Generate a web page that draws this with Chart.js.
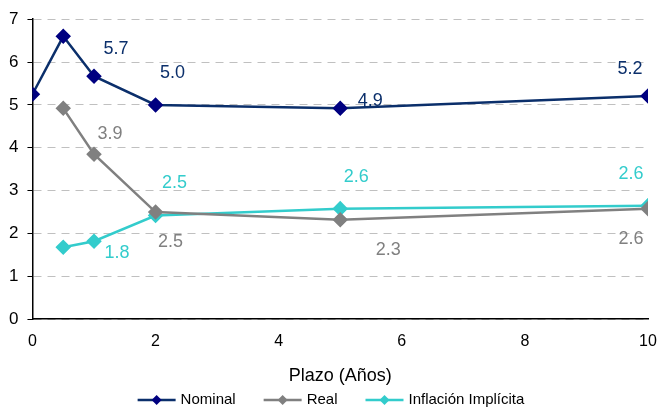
<!DOCTYPE html>
<html>
<head>
<meta charset="utf-8">
<script src="https://cdn.jsdelivr.net/npm/chart.js@4/dist/chart.umd.min.js"></script>
<style>
  html, body { margin: 0; padding: 0; background: #fff; }
  #wrap { width: 660px; height: 412px; }
</style>
</head>
<body>
<div id="wrap"><canvas id="myChart"></canvas></div>
<script>
// datos ===================================
var plazos = [0, 0.5, 1, 2, 5, 10];
var nominal = [5.25, 6.6, 5.67, 5.0, 4.92, 5.21];
var real = [null, 4.92, 3.85, 2.5, 2.32, 2.58];
var inflacion = [null, 1.68, 1.82, 2.42, 2.58, 2.65];

// etiquetas de valores (null = sin etiqueta)
var etqNominal = [null, null, '5.7', '5.0', '4.9', '5.2'];
var etqReal = [null, null, '3.9', '2.5', '2.3', '2.6'];
var etqInflacion = [null, null, '1.8', '2.5', '2.6', '2.6'];

var xTicks = [0, 2, 4, 6, 8, 10];
var yTicks = [0, 1, 2, 3, 4, 5, 6, 7];

// offsets de las etiquetas (px)
var offNominal = [null, null, [22, -27], [17, -32], [30, -7], [-18, -27]];
var offReal = [null, null, [16, -20], [15, 30], [48, 30], [-17, 30]];
var offInflacion = [null, null, [23, 12], [19, -32], [16, -32], [-17, -32]];

var FONT = '"Liberation Sans", Arial, sans-serif';

function toPoints(vals) {
  var pts = [];
  for (var i = 0; i < plazos.length; i++) {
    if (vals[i] !== null) pts.push({ x: plazos[i], y: vals[i] });
  }
  return pts;
}

var series = [
  { label: 'Nominal', vals: nominal, etq: etqNominal, off: offNominal, line: '#0b2f6b', mark: '#000080', txt: '#0b2f6b' },
  { label: 'Real', vals: real, etq: etqReal, off: offReal, line: '#808080', mark: '#808080', txt: '#808080' },
  { label: 'Inflación Implícita', vals: inflacion, etq: etqInflacion, off: offInflacion, line: '#33cccc', mark: '#33cccc', txt: '#33cccc' }
];

var datasets = series.map(function (s) {
  return {
    label: s.label,
    data: toPoints(s.vals),
    borderColor: s.line,
    backgroundColor: s.mark,
    pointBackgroundColor: s.mark,
    pointBorderColor: s.mark,
    pointStyle: 'rectRot',
    pointRadius: 6,
    borderWidth: 2.5,
    tension: 0
  };
});

// etiquetas de datos
var valueLabels = {
  id: 'valueLabels',
  afterDatasetsDraw: function (chart) {
    var ctx = chart.ctx;
    var xs = chart.scales.x, ys = chart.scales.y;
    ctx.save();
    ctx.font = '18px ' + FONT;
    ctx.textAlign = 'center';
    ctx.textBaseline = 'middle';
    series.forEach(function (s) {
      for (var i = 0; i < plazos.length; i++) {
        if (!s.etq[i]) continue;
        var px = xs.getPixelForValue(plazos[i]);
        var py = ys.getPixelForValue(s.vals[i]);
        ctx.fillStyle = s.txt;
        ctx.fillText(s.etq[i], px + s.off[i][0], py + s.off[i][1]);
      }
    });
    ctx.restore();
  }
};

// leyenda abajo (dibujada a mano para controlar el espaciado)
var bottomLegend = {
  id: 'bottomLegend',
  afterDraw: function (chart) {
    var ctx = chart.ctx;
    var y = 400, lineW = 38, gapText = 5, gapItem = 28;
    ctx.save();
    ctx.font = '15px ' + FONT;
    ctx.textBaseline = 'middle';
    var total = 0;
    series.forEach(function (s, i) {
      total += lineW + gapText + ctx.measureText(s.label).width;
      if (i < series.length - 1) total += gapItem;
    });
    var x = (chart.width - total) / 2 + 1;
    series.forEach(function (s) {
      ctx.strokeStyle = s.line;
      ctx.lineWidth = 2.5;
      ctx.beginPath();
      ctx.moveTo(x, y); ctx.lineTo(x + lineW, y);
      ctx.stroke();
      var cx = x + lineW / 2;
      ctx.fillStyle = s.mark;
      ctx.beginPath();
      ctx.moveTo(cx, y - 5); ctx.lineTo(cx + 5, y); ctx.lineTo(cx, y + 5); ctx.lineTo(cx - 5, y);
      ctx.closePath();
      ctx.fill();
      x += lineW + gapText;
      ctx.fillStyle = '#000';
      ctx.fillText(s.label, x, y);
      x += ctx.measureText(s.label).width + gapItem;
    });
    ctx.restore();
  }
};

var config = {
  type: 'line',
  data: { datasets: datasets },
  options: {
    responsive: true,
    maintainAspectRatio: false,
    animation: false,
    layout: { padding: { top: 10, right: 0, left: 0, bottom: 25 } },
    scales: {
      x: {
        type: 'linear',
        min: 0,
        max: 10,
        afterBuildTicks: function (axis) { axis.ticks = xTicks.map(function (v) { return { value: v }; }); },
        afterFit: function (axis) { axis.paddingRight = 12; },
        grid: { display: false, drawOnChartArea: false, drawTicks: true, tickLength: 6, color: '#000' },
        border: { display: true, color: '#000', width: 1.5 },
        ticks: { color: '#000', font: { size: 16, family: FONT }, padding: 7, maxRotation: 0 },
        title: { display: true, text: 'Plazo (Años)', color: '#000', font: { size: 18, family: FONT }, padding: { top: 7, bottom: 0 } }
      },
      y: {
        min: 0,
        max: 7,
        afterBuildTicks: function (axis) { axis.ticks = yTicks.map(function (v) { return { value: v }; }); },
        grid: { color: '#c0c0c0', tickColor: '#000', tickLength: 5, drawTicks: true },
        border: { display: true, color: '#000', width: 1.5, dash: [8, 6] },
        ticks: { color: '#000', font: { size: 17, family: FONT }, padding: 9 }
      }
    },
    plugins: {
      legend: { display: false },
      tooltip: { enabled: false }
    }
  },
  plugins: [valueLabels, bottomLegend]
};

var myChart = new Chart(document.getElementById('myChart'), config);
</script>
</body>
</html>
